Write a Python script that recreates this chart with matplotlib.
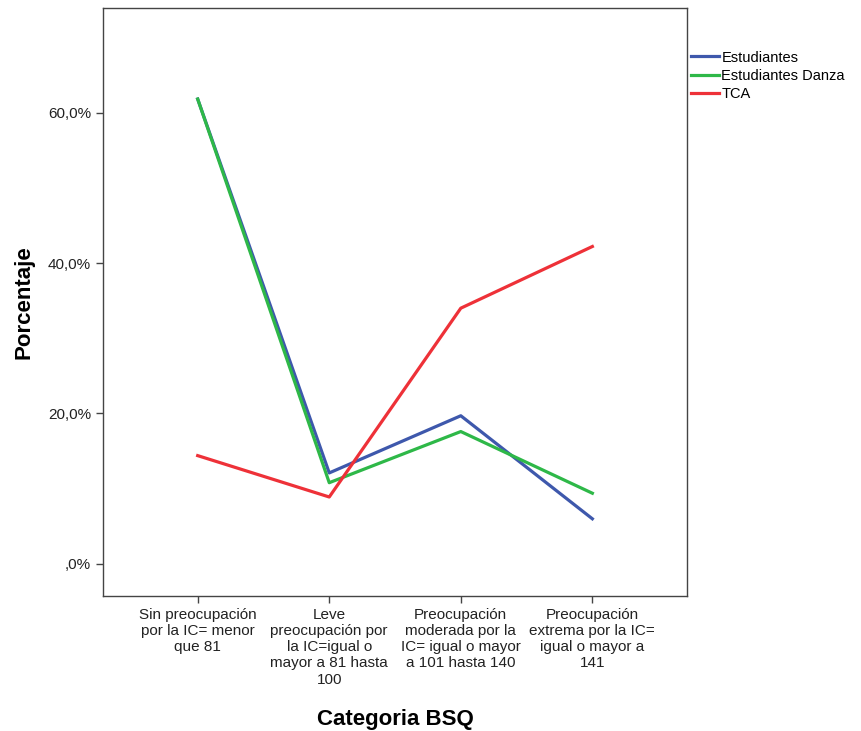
import matplotlib.pyplot as plt

plt.rcParams['font.family'] = ['Liberation Sans', 'DejaVu Sans']

categorias = [
    'Sin preocupación\npor la IC= menor\nque 81',
    'Leve\npreocupación por\nla IC=igual o\nmayor a 81 hasta\n100',
    'Preocupación\nmoderada por la\nIC= igual o mayor\na 101 hasta 140',
    'Preocupación\nextrema por la IC=\nigual o mayor a\n141',
]
estudiantes = [61.8, 12.1, 19.7, 6.0]
danza = [61.8, 10.8, 17.6, 9.4]
tca = [14.4, 8.9, 34.0, 42.2]
y_ticks = [0, 20, 40, 60]
y_labels = [',0%', '20,0%', '40,0%', '60,0%']

fig = plt.figure(figsize=(8.61, 7.31), dpi=100)
ax = fig.add_axes([0.1196, 0.1847, 0.6784, 0.8043])

x = range(len(categorias))
ax.plot(x, estudiantes, color='#3E58AC', lw=2.3, label='Estudiantes')
ax.plot(x, danza, color='#2EB848', lw=2.3, label='Estudiantes Danza')
ax.plot(x, tca, color='#EE3138', lw=2.3, label='TCA')

ax.set_xlim(-0.72, 3.72)
ax.set_ylim(-4.26, 73.9)
ax.set_xticks(list(x))
ax.set_xticklabels(categorias, fontsize=11, color='#222222', linespacing=1.2)
ax.set_yticks(y_ticks)
ax.set_yticklabels(y_labels, fontsize=11, color='#222222')
ax.tick_params(direction='out', length=5, width=1, color='#444444')

for s in ax.spines.values():
    s.set_color('#444444')
    s.set_linewidth(1)

ax.set_ylabel('Porcentaje', fontsize=16, fontweight='bold', labelpad=10)
ax.set_xlabel('Categoria BSQ', fontsize=16, fontweight='bold', labelpad=16)

ax.legend(loc='upper left', bbox_to_anchor=(0.99, 0.945), frameon=False,
          fontsize=10.5, handlelength=1.9, handletextpad=0.15,
          labelspacing=0.3, borderaxespad=0.3)

fig.savefig('out.png', dpi=100)
